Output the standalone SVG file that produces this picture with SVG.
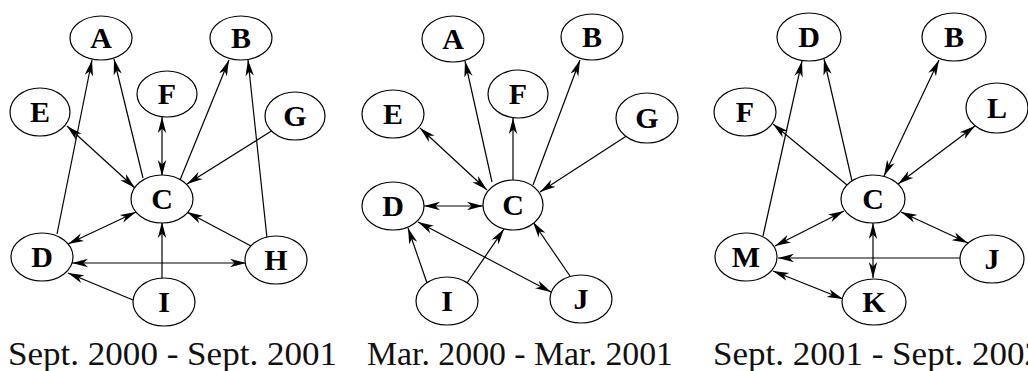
<svg xmlns="http://www.w3.org/2000/svg" width="1028" height="371" viewBox="0 0 1028 371">
  <style>
    .node ellipse { fill: #fff; stroke: #000; stroke-width: 1.2; }
    .node text { font-family: "Liberation Serif", "DejaVu Serif", serif; font-weight: bold; font-size: 30px; text-anchor: middle; fill: #000; }
    .edges path { fill: none; stroke: #000; stroke-width: 1.2; }
    .one { marker-end: url(#ah); }
    .two { marker-start: url(#ah); marker-end: url(#ah); }
    .caption { font-family: "Liberation Serif", "DejaVu Serif", serif; font-size: 34px; fill: #111; }
  </style>
  <defs>
    <marker id="ah" viewBox="0 0 16 10" refX="16" refY="5" markerWidth="16" markerHeight="10" markerUnits="userSpaceOnUse" orient="auto-start-reverse">
      <path d="M0,0.8 L16,5 L0,9.2 L4.5,5 z" fill="#000"/>
    </marker>
  </defs>

  <rect width="1028" height="371" fill="#fff"/>

  <!-- connectors -->
  <g class="edges">
    <!-- Sept. 2000 - Sept. 2001 -->
    <path class="one" d="M57,234 L92,60"/>
    <path class="one" d="M143,178 L114,59"/>
    <path class="two" d="M67,126 L135,188"/>
    <path class="two" d="M162,117 L162,176"/>
    <path class="one" d="M180,180 L229,60"/>
    <path class="one" d="M267,238 L248,60"/>
    <path class="one" d="M273,130 L187,184"/>
    <path class="two" d="M68,244 L136,212"/>
    <path class="one" d="M251,246 L187,212"/>
    <path class="one" d="M162,279 L162,222"/>
    <path class="two" d="M72,263 L246,263"/>
    <path class="one" d="M133,300 L68,273"/>

    <!-- Mar. 2000 - Mar. 2001 -->
    <path class="one" d="M492,182 L465,61"/>
    <path class="one" d="M513,181 L513,118"/>
    <path class="one" d="M533,185 L580,60"/>
    <path class="two" d="M420,128 L487,190"/>
    <path class="one" d="M628,135 L540,192"/>
    <path class="two" d="M424,206 L483,206"/>
    <path class="two" d="M418,222 L551,292"/>
    <path class="one" d="M427,283 L408,228"/>
    <path class="one" d="M467,283 L504,229"/>
    <path class="one" d="M570,276 L533,222"/>

    <!-- Sept. 2001 - Sept. 2002 -->
    <path class="one" d="M763,236 L802,61"/>
    <path class="one" d="M852,181 L824,59"/>
    <path class="one" d="M847,185 L773,124"/>
    <path class="two" d="M939,60 L884,176"/>
    <path class="two" d="M975,126 L898,184"/>
    <path class="two" d="M775,246 L844,211"/>
    <path class="two" d="M901,212 L968,243"/>
    <path class="two" d="M873,223 L873,278"/>
    <path class="one" d="M960,258 L778,258"/>
    <path class="two" d="M773,271 L843,299"/>
  </g>

  <!-- Sept. 2000 - Sept. 2001 -->
  <g id="p1-A" class="node"><ellipse cx="101" cy="38" rx="31" ry="22"/><text x="101" y="48">A</text></g>
  <g id="p1-B" class="node"><ellipse cx="241" cy="38" rx="31" ry="22"/><text x="241" y="48">B</text></g>
  <g id="p1-F" class="node"><ellipse cx="167" cy="94" rx="30" ry="23"/><text x="167" y="104">F</text></g>
  <g id="p1-E" class="node"><ellipse cx="40" cy="112" rx="30" ry="24"/><text x="40" y="122">E</text></g>
  <g id="p1-G" class="node"><ellipse cx="295" cy="116" rx="30" ry="24"/><text x="295" y="126">G</text></g>
  <g id="p1-C" class="node"><ellipse cx="162" cy="199" rx="31" ry="24"/><text x="162" y="209">C</text></g>
  <g id="p1-D" class="node"><ellipse cx="42" cy="257" rx="31" ry="24"/><text x="42" y="267">D</text></g>
  <g id="p1-H" class="node"><ellipse cx="276" cy="260" rx="31" ry="24"/><text x="276" y="270">H</text></g>
  <g id="p1-I" class="node"><ellipse cx="164" cy="302" rx="31" ry="24"/><text x="164" y="312">I</text></g>

  <!-- Mar. 2000 - Mar. 2001 -->
  <g id="p2-A" class="node"><ellipse cx="453" cy="39" rx="31" ry="23"/><text x="453" y="49">A</text></g>
  <g id="p2-B" class="node"><ellipse cx="592" cy="37" rx="31" ry="23"/><text x="592" y="47">B</text></g>
  <g id="p2-F" class="node"><ellipse cx="518" cy="94" rx="30" ry="24"/><text x="518" y="104">F</text></g>
  <g id="p2-E" class="node"><ellipse cx="393" cy="114" rx="31" ry="24"/><text x="393" y="124">E</text></g>
  <g id="p2-G" class="node"><ellipse cx="647" cy="118" rx="31" ry="25"/><text x="647" y="128">G</text></g>
  <g id="p2-C" class="node"><ellipse cx="513" cy="205" rx="30" ry="25"/><text x="513" y="215">C</text></g>
  <g id="p2-D" class="node"><ellipse cx="393" cy="206" rx="31" ry="24"/><text x="393" y="216">D</text></g>
  <g id="p2-I" class="node"><ellipse cx="447" cy="301" rx="31" ry="24"/><text x="447" y="311">I</text></g>
  <g id="p2-J" class="node"><ellipse cx="581" cy="299" rx="31" ry="24"/><text x="581" y="309">J</text></g>

  <!-- Sept. 2001 - Sept. 2002 -->
  <g id="p3-D" class="node"><ellipse cx="809" cy="37" rx="32" ry="24"/><text x="809" y="47">D</text></g>
  <g id="p3-B" class="node"><ellipse cx="954" cy="37" rx="32" ry="24"/><text x="954" y="47">B</text></g>
  <g id="p3-F" class="node"><ellipse cx="745" cy="112" rx="31" ry="24"/><text x="745" y="122">F</text></g>
  <g id="p3-L" class="node"><ellipse cx="997" cy="108" rx="31" ry="25"/><text x="997" y="118">L</text></g>
  <g id="p3-C" class="node"><ellipse cx="873" cy="199" rx="32" ry="24"/><text x="873" y="209">C</text></g>
  <g id="p3-M" class="node"><ellipse cx="746" cy="257" rx="31" ry="24"/><text x="746" y="267">M</text></g>
  <g id="p3-J" class="node"><ellipse cx="992" cy="259" rx="32" ry="24"/><text x="992" y="269">J</text></g>
  <g id="p3-K" class="node"><ellipse cx="874" cy="302" rx="32" ry="23"/><text x="874" y="312">K</text></g>

  <!-- period captions -->
  <text class="caption" x="8" y="365" textLength="329" lengthAdjust="spacingAndGlyphs">Sept. 2000 - Sept. 2001</text>
  <text class="caption" x="367" y="365" textLength="306" lengthAdjust="spacingAndGlyphs">Mar. 2000 - Mar. 2001</text>
  <text class="caption" x="713" y="365" textLength="329" lengthAdjust="spacingAndGlyphs">Sept. 2001 - Sept. 2002</text>
</svg>
